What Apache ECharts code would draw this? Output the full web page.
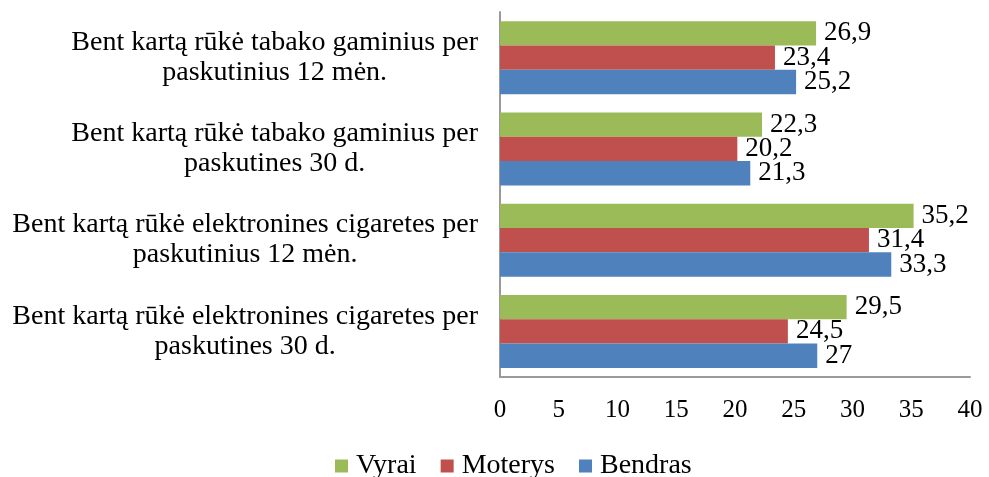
<!DOCTYPE html>
<html>
<head>
<meta charset="utf-8">
<script src="https://cdn.jsdelivr.net/npm/echarts@6/dist/echarts.min.js"></script>
<style>
  html, body { margin: 0; padding: 0; background: #fff; }
  #chart { width: 989px; height: 477px; }
</style>
</head>
<body>
<div id="chart"></div>
<script>
// categories, bottom to top (ECharts draws category y axis upward)
var categories = [
    'Bent kartą rūkė elektronines cigaretes per\npaskutines 30 d.',
    'Bent kartą rūkė elektronines cigaretes per\npaskutinius 12 mėn.',
    'Bent kartą rūkė tabako gaminius per\npaskutines 30 d.',
    'Bent kartą rūkė tabako gaminius per\npaskutinius 12 mėn.'
];
var vyrai = [29.5, 35.2, 22.3, 26.9];
var moterys = [24.5, 31.4, 20.2, 23.4];
var bendras = [27, 33.3, 21.3, 25.2];
var seriesNames = ['Vyrai', 'Moterys', 'Bendras'];

var font = '"Liberation Serif", "Times New Roman", serif';
var chart = echarts.init(document.getElementById('chart'));

function barSeries(name, data, color) {
    return {
        name: name,
        type: 'bar',
        data: data,
        barCategoryGap: '20%',
        barGap: '0%',
        itemStyle: { color: color },
        label: {
            show: true,
            position: 'right',
            distance: 8,
            color: '#000',
            fontFamily: font,
            fontSize: 27,
            formatter: function (p) { return String(p.value).replace('.', ','); }
        }
    };
}

var option = {
    animation: false,
    grid: { left: 500, right: 19, top: 12, bottom: 100 },
    legend: {
        data: seriesNames,
        top: 447,
        left: 330,
        icon: 'rect',
        itemWidth: 13,
        itemHeight: 13,
        itemGap: 24,
        textStyle: { fontFamily: font, fontSize: 28, color: '#000', padding: [0, 0, 0, 3] }
    },
    xAxis: {
        type: 'value',
        min: 0,
        max: 40,
        interval: 5,
        splitLine: { show: false },
        axisLine: { show: true, lineStyle: { color: '#9a9a9a', width: 2 } },
        axisTick: { show: false },
        axisLabel: { margin: 21, color: '#000', fontFamily: font, fontSize: 25 }
    },
    yAxis: {
        type: 'category',
        data: categories,
        axisLine: { show: true, lineStyle: { color: '#9a9a9a', width: 2 } },
        axisTick: { show: false },
        axisLabel: {
            margin: 22,
            color: '#000',
            fontFamily: font,
            fontSize: 28,
            lineHeight: 30,
            formatter: function (v) {
                return v.split('\n').map(function (s) { return '{c|' + s + '}'; }).join('\n');
            },
            rich: {
                c: { align: 'center', fontFamily: font, fontSize: 28, lineHeight: 30, color: '#000' }
            }
        }
    },
    series: [
        barSeries(seriesNames[0], vyrai, '#9bbb59'),
        barSeries(seriesNames[1], moterys, '#c0504d'),
        barSeries(seriesNames[2], bendras, '#4f81bd')
    ]
};
chart.setOption(option);
</script>
</body>
</html>
